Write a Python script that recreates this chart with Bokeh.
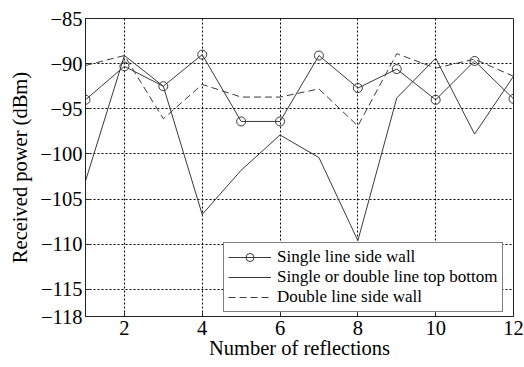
from bokeh.plotting import figure
from bokeh.models import Range1d, FixedTicker, Legend, LegendItem
from bokeh.embed import file_html
from bokeh.resources import INLINE

reflections = [1, 2, 3, 4, 5, 6, 7, 8, 9, 10, 11, 12]
single_side = [-94.0, -90.3, -92.5, -89.0, -96.4, -96.4, -89.1, -92.7, -90.6, -94.0, -89.7, -93.9]
top_bottom = [-103.0, -89.1, -92.5, -106.7, -101.8, -97.9, -100.4, -109.6, -93.8, -89.4, -97.8, -91.4]
double_side = [-90.2, -89.1, -96.1, -92.3, -93.7, -93.7, -92.8, -96.9, -88.9, -90.5, -89.5, -91.4]

x_ticks = [2, 4, 6, 8, 10, 12]
y_ticks = [-118, -115, -110, -105, -100, -95, -90, -85]

FONT = "Liberation Serif"
LC = "#3a3a3a"

p = figure(width=524, height=367, output_backend="svg", toolbar_location=None,
           x_range=Range1d(1, 12), y_range=Range1d(-118, -85),
           min_border_left=85, min_border_right=11, min_border_top=18, min_border_bottom=51)

p.background_fill_color = "white"
p.border_fill_color = "white"
p.outline_line_color = "#222222"
p.outline_line_width = 1

for ax in (p.xaxis[0], p.yaxis[0]):
    ax.axis_line_color = "#222222"
    ax.major_tick_in = 4
    ax.major_tick_out = 0
    ax.minor_tick_line_color = None
    ax.major_tick_line_color = "#222222"
    ax.major_label_text_font = FONT
    ax.major_label_text_font_size = "20.5px"
    ax.major_label_text_color = "black"
    ax.axis_label_text_font = FONT
    ax.axis_label_text_font_size = "20.5px"
    ax.axis_label_text_font_style = "normal"
    ax.axis_label_text_color = "black"

p.xaxis.ticker = FixedTicker(ticks=x_ticks)
p.yaxis.ticker = FixedTicker(ticks=y_ticks)
p.yaxis.major_label_overrides = {t: "\u2212" + str(abs(t)) for t in y_ticks}
p.xaxis.axis_label = "Number of reflections"
p.yaxis.axis_label = "Received power (dBm)"
p.xaxis.major_label_standoff = 4
p.yaxis.major_label_standoff = 3
p.xaxis.axis_label_standoff = -1
p.yaxis.axis_label_standoff = 6

p.xgrid.ticker = FixedTicker(ticks=x_ticks)
p.ygrid.ticker = FixedTicker(ticks=y_ticks)
for g in (p.xgrid[0], p.ygrid[0]):
    g.grid_line_color = "black"
    g.grid_line_dash = "2 2"
    g.grid_line_width = 1

r1 = p.line(reflections, single_side, line_color=LC, line_width=1)
r1c = p.scatter(reflections, single_side, marker="circle", size=9, line_color=LC,
                fill_color=None, line_width=1)
r2 = p.line(reflections, top_bottom, line_color=LC, line_width=1)
r3 = p.line(reflections, double_side, line_color=LC, line_width=1, line_dash="7 4")

legend = Legend(items=[
    LegendItem(label="Single line side wall", renderers=[r1, r1c]),
    LegendItem(label="Single or double line top bottom", renderers=[r2]),
    LegendItem(label="Double line side wall", renderers=[r3]),
], location=(138, 4))
legend.label_text_font = FONT
legend.label_text_font_size = "17px"
legend.label_text_color = "black"
legend.border_line_color = "black"
legend.border_line_width = 1
legend.background_fill_color = "white"
legend.background_fill_alpha = 1
legend.glyph_width = 43
legend.glyph_height = 20
legend.label_height = 20
legend.label_width = 220
legend.label_standoff = 6
legend.padding = 4
legend.spacing = 0
legend.margin = 0
p.add_layout(legend)

open("out.html", "w").write(file_html(p, INLINE))
